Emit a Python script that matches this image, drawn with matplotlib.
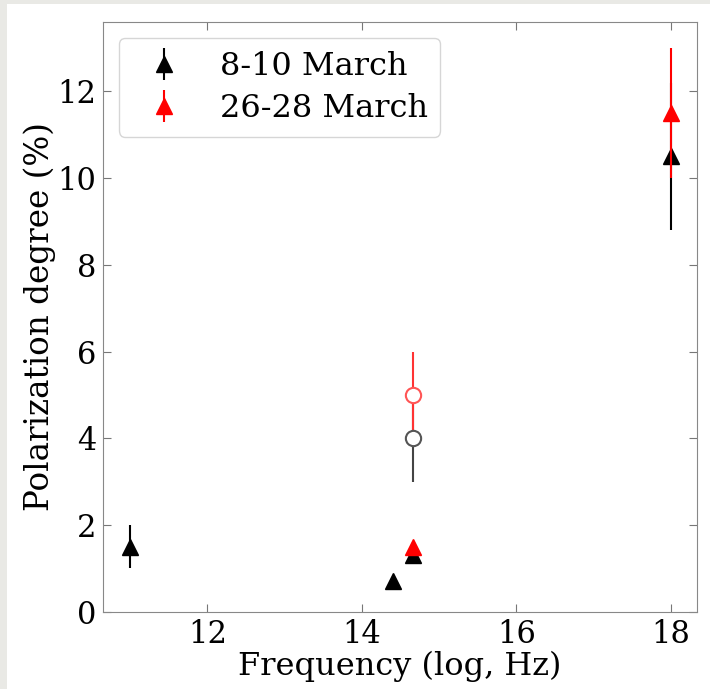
import matplotlib
matplotlib.use("Agg")
import matplotlib.pyplot as plt
from matplotlib.patches import Rectangle

plt.rcParams['font.family'] = 'DejaVu Serif'

# black: 8-10 March (triangles)
black_x = [11.0, 14.4, 14.66, 18.0]
black_y = [1.5, 0.7, 1.3, 10.5]
black_err = [0.5, 0.0, 0.2, 1.7]

# red: 26-28 March (triangles)
red_x = [14.66, 18.0]
red_y = [1.5, 11.5]
red_err = [0.1, 1.5]

# open circles (optical)
circ_black_x, circ_black_y, circ_black_err = [14.66], [4.0], [1.0]
circ_red_x, circ_red_y, circ_red_err = [14.66], [5.0], [1.0]

fig = plt.figure(figsize=(7.10, 6.89), dpi=100)
fig.patch.set_facecolor('#e9e9e5')
fig.add_artist(Rectangle((7 / 710, 0), 1, 1 - 4 / 689, transform=fig.transFigure,
                         facecolor='white', edgecolor='none', zorder=-10))
ax = fig.add_axes([0.145, 0.112, 0.837, 0.856])

ax.errorbar(circ_black_x, circ_black_y, yerr=circ_black_err, fmt='o', color='#444444',
            mfc='white', mec='#555555', ms=11, mew=1.5, elinewidth=1.5, zorder=2)
ax.errorbar(circ_red_x, circ_red_y, yerr=circ_red_err, fmt='o', color='#ff3333',
            mfc='white', mec='#ff5555', ms=11, mew=1.5, elinewidth=1.5, zorder=2)
ax.errorbar(black_x, black_y, yerr=black_err, fmt='^', color='black', ms=11,
            elinewidth=1.5, label='8-10 March', zorder=3)
ax.errorbar(red_x, red_y, yerr=red_err, fmt='^', color='red', ms=11,
            elinewidth=1.5, label='26-28 March', zorder=4)

ax.set_xlim(10.65, 18.34)
ax.set_ylim(0, 13.6)
ax.set_xticks([12, 14, 16, 18])
ax.set_yticks([0, 2, 4, 6, 8, 10, 12])
ax.tick_params(direction='in', top=True, right=True, labelsize=22, length=6,
               color='#777777', pad=5)
for s in ax.spines.values():
    s.set_color('#888888')

ax.set_xlabel('Frequency (log, Hz)', fontsize=23, labelpad=1)
ax.set_ylabel('Polarization degree (%)', fontsize=23.5, labelpad=1)
ax.legend(loc='upper left', fontsize=23, handletextpad=0.75,
          borderaxespad=0.5, borderpad=0.4, labelspacing=0.35)

fig.savefig('out.png', dpi=100)
